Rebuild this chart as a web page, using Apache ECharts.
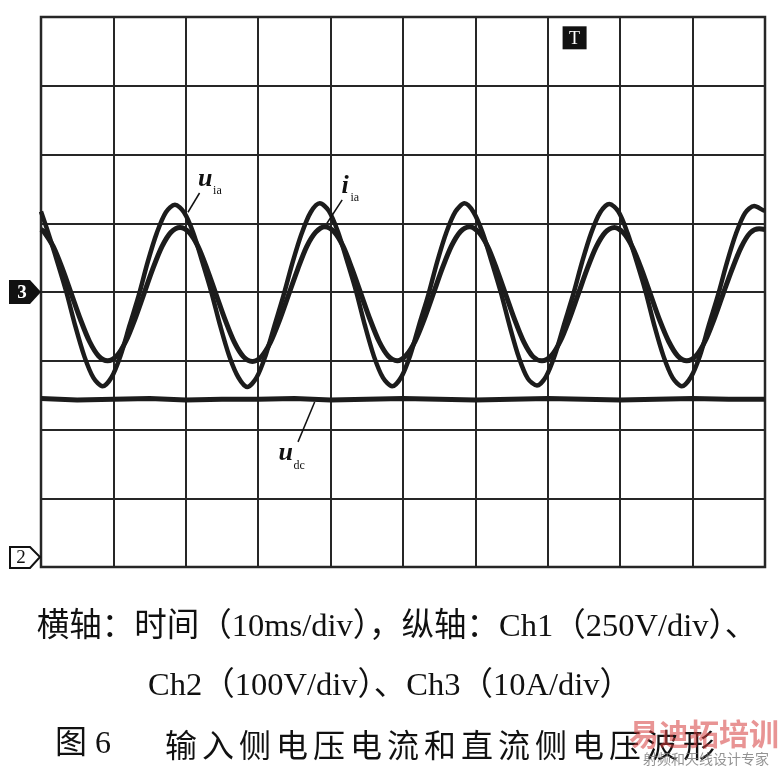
<!DOCTYPE html>
<html><head><meta charset="utf-8">
<script src="https://cdn.jsdelivr.net/npm/echarts@6/dist/echarts.min.js"></script>
<style>html,body{margin:0;padding:0;background:#fff}#c{width:783px;height:768px}</style>
</head><body><div id="c"></div>
<script>
// time axis (ms), 10 ms/div -- samples for u_ia
const uTimes = [0,
  1, 2.25, 3.5, 4.75, 6, 7.25, 8.5, 9.75, 11, 12.25, 13.5, 14.75, 16, 17.25, 18.5, 19.75,
  21, 22.25, 23.5, 24.75, 26, 27.25, 28.5, 29.75, 31, 32.25, 33.5, 34.75, 36, 37.25, 38.5, 39.75,
  41, 42.25, 43.5, 44.75, 46, 47.25, 48.5, 49.75, 51, 52.25, 53.5, 54.75, 56, 57.25, 58.5, 59.75,
  61, 62.25, 63.5, 64.75, 66, 67.25, 68.5, 69.75, 71, 72.25, 73.5, 74.75, 76, 77.25, 78.5, 79.75,
  81, 82.25, 83.5, 84.75, 86, 87.25, 88.5, 89.75, 91, 92.25, 93.5, 94.75, 96, 97.25, 98.5, 99.75,
  100];
// u_ia trace (divisions from screen centre)
const uia = [1.17,
  0.86, 0.44, 0.00, -0.50, -0.94, -1.25, -1.37, -1.24, -0.92, -0.48, -0.05, 0.44, 0.86, 1.16, 1.27, 1.16,
  0.87, 0.45, 0.01, -0.49, -0.93, -1.24, -1.38, -1.25, -0.93, -0.49, -0.05, 0.43, 0.85, 1.16, 1.29, 1.18,
  0.88, 0.46, 0.02, -0.49, -0.94, -1.25, -1.37, -1.24, -0.92, -0.47, -0.04, 0.45, 0.87, 1.17, 1.29, 1.16,
  0.86, 0.44, 0.00, -0.50, -0.95, -1.26, -1.36, -1.23, -0.91, -0.47, -0.04, 0.44, 0.86, 1.16, 1.28, 1.17,
  0.86, 0.45, 0.01, -0.50, -0.94, -1.25, -1.37, -1.24, -0.93, -0.48, -0.05, 0.43, 0.85, 1.15, 1.25, 1.19,
  1.18];
// samples for i_ia
const iTimes = [0,
  0.45, 1.7, 2.95, 4.2, 5.45, 6.7, 7.95, 9.2, 10.45, 11.7, 12.95, 14.2, 15.45, 16.7, 17.95, 19.2,
  20.45, 21.7, 22.95, 24.2, 25.45, 26.7, 27.95, 29.2, 30.45, 31.7, 32.95, 34.2, 35.45, 36.7, 37.95, 39.2,
  40.45, 41.7, 42.95, 44.2, 45.45, 46.7, 47.95, 49.2, 50.45, 51.7, 52.95, 54.2, 55.45, 56.7, 57.95, 59.2,
  60.45, 61.7, 62.95, 64.2, 65.45, 66.7, 67.95, 69.2, 70.45, 71.7, 72.95, 74.2, 75.45, 76.7, 77.95, 79.2,
  80.45, 81.7, 82.95, 84.2, 85.45, 86.7, 87.95, 89.2, 90.45, 91.7, 92.95, 94.2, 95.45, 96.7, 97.95, 99.2,
  100];
const iia = [0.91,
  0.87, 0.66, 0.34, -0.03, -0.40, -0.72, -0.93, -1.00, -0.93, -0.72, -0.40, -0.03, 0.34, 0.66, 0.87, 0.94,
  0.87, 0.66, 0.33, -0.04, -0.41, -0.73, -0.94, -1.01, -0.94, -0.73, -0.41, -0.04, 0.33, 0.66, 0.87, 0.95,
  0.88, 0.67, 0.34, -0.03, -0.40, -0.72, -0.93, -1.00, -0.92, -0.71, -0.39, -0.02, 0.35, 0.67, 0.88, 0.95,
  0.87, 0.66, 0.33, -0.04, -0.41, -0.73, -0.94, -1.00, -0.93, -0.72, -0.40, -0.03, 0.34, 0.66, 0.87, 0.94,
  0.86, 0.65, 0.33, -0.04, -0.41, -0.72, -0.93, -1.00, -0.93, -0.72, -0.40, -0.03, 0.33, 0.65, 0.86, 0.92,
  0.91];
// u_dc trace
const dcTimes = [0, 5, 10, 15, 20, 25, 30, 35, 40, 45, 50, 55, 60, 65, 70, 75, 80, 85, 90, 95, 100];
const udc = [-1.55, -1.57, -1.56, -1.55, -1.57, -1.56, -1.56, -1.55, -1.57, -1.56, -1.55, -1.56, -1.57, -1.56, -1.55, -1.56, -1.57, -1.56, -1.55, -1.56, -1.56];

const caption1 = '横轴：时间（10ms/div），纵轴：Ch1（250V/div）、';
const caption2 = 'Ch2（100V/div）、Ch3（10A/div）';
const figNo = '图 6';
const figTitle = '输入侧电压电流和直流侧电压波形';

const INK = '#1c1c1c';
const chart = echarts.init(document.getElementById('c'), null, {renderer: 'canvas'});
const axisCommon = {
  axisLine: {show: false}, axisTick: {show: false}, axisLabel: {show: false},
  splitLine: {show: true, lineStyle: {color: '#262626', width: 2}}
};
chart.setOption({
  animation: false,
  backgroundColor: '#fff',
  grid: {left: 41, top: 17, right: 18, bottom: 201, show: true, borderColor: '#262626', borderWidth: 2.5},
  xAxis: Object.assign({type: 'value', min: 0, max: 100, interval: 10}, axisCommon),
  yAxis: Object.assign({type: 'value', min: -4, max: 4, interval: 1}, axisCommon),
  series: [
    {name: 'udc', type: 'line', showSymbol: false, data: dcTimes.map((t, i) => [t, udc[i]]),
      lineStyle: {color: INK, width: 5}, z: 3},
    {name: 'iia', type: 'line', showSymbol: false, smooth: 0.3, data: iTimes.map((t, i) => [t, iia[i]]),
      lineStyle: {color: INK, width: 5}, z: 3},
    {name: 'uia', type: 'line', showSymbol: false, smooth: 0.3, data: uTimes.map((t, i) => [t, uia[i]]),
      lineStyle: {color: INK, width: 4.5}, z: 4}
  ]
});

const P = (x, y) => chart.convertToPixel({gridIndex: 0}, [x, y]);
const g = [];
const SERIF = '"Liberation Serif", "Noto Sans CJK SC", serif';
// channel 3 marker at centre
const c3 = P(0, 0);
g.push({type: 'polygon', shape: {points: [[c3[0]-32, c3[1]-12], [c3[0]-11, c3[1]-12], [c3[0], c3[1]], [c3[0]-11, c3[1]+12], [c3[0]-32, c3[1]+12]]},
  style: {fill: '#111'}, z: 10});
g.push({type: 'text', style: {text: '3', x: c3[0]-19, y: c3[1]+1, fill: '#fff', font: 'bold 19px "Liberation Serif"', align: 'center', verticalAlign: 'middle'}, z: 11});
// channel 2 marker near bottom
const c2 = P(0, -4);
const m2 = c2[1] - 10;
g.push({type: 'polygon', shape: {points: [[c2[0]-31, m2-10], [c2[0]-11, m2-10], [c2[0]-1, m2], [c2[0]-11, m2+11], [c2[0]-31, m2+11]]},
  style: {fill: '#fff', stroke: '#111', lineWidth: 2}, z: 10});
g.push({type: 'text', style: {text: '2', x: c2[0]-20, y: m2+1, fill: '#111', font: '19px "Liberation Serif"', align: 'center', verticalAlign: 'middle'}, z: 11});
// trigger marker
const tp = P(73.7, 3.69);
g.push({type: 'rect', shape: {x: tp[0]-12, y: tp[1]-12, width: 24, height: 23}, style: {fill: '#111'}, z: 10});
g.push({type: 'text', style: {text: 'T', x: tp[0], y: tp[1]+1, fill: '#fff', font: '18px "Liberation Serif"', align: 'center', verticalAlign: 'middle'}, z: 11});

// trace annotations
function label(main, sub, at, lineFrom, lineTo) {
  const a = P(at[0], at[1]);
  g.push({type: 'text', style: {text: main, x: a[0], y: a[1], fill: '#111', font: 'italic bold 26px "Liberation Serif"', align: 'left', verticalAlign: 'bottom'}, z: 11});
  g.push({type: 'text', style: {text: sub, x: a[0] + (main === 'i' ? 9 : 15), y: a[1] + 5, fill: '#111', font: '12px "Liberation Serif"', align: 'left', verticalAlign: 'bottom'}, z: 11});
  const f = P(lineFrom[0], lineFrom[1]), t = P(lineTo[0], lineTo[1]);
  g.push({type: 'line', shape: {x1: f[0], y1: f[1], x2: t[0], y2: t[1]}, style: {stroke: '#111', lineWidth: 1.5}, z: 11});
}
label('u', 'ia', [21.7, 1.45], [20.3, 1.16], [21.9, 1.44]);
label('i', 'ia', [41.5, 1.35], [39.5, 1.0], [41.6, 1.34]);
label('u', 'dc', [32.8, -2.54], [37.8, -1.6], [35.5, -2.18]);

// caption
g.push({type: 'text', style: {text: caption1, x: 397, y: 627, fill: '#111', font: '32.5px ' + SERIF, align: 'center', verticalAlign: 'middle'}});
g.push({type: 'text', style: {text: caption2, x: 390, y: 686, fill: '#111', font: '32.5px ' + SERIF, align: 'center', verticalAlign: 'middle'}});
g.push({type: 'text', style: {text: figNo, x: 55, y: 745, fill: '#111', font: '32px ' + SERIF, align: 'left', verticalAlign: 'middle'}});
for (let k = 0; k < figTitle.length; k++) {
  g.push({type: 'text', style: {text: figTitle[k], x: 165 + k * 37, y: 745, fill: '#111', font: '32px "Noto Sans CJK SC"', align: 'left', verticalAlign: 'middle'}});
}
// watermark
g.push({type: 'text', style: {text: '易迪拓培训', x: 704, y: 734, fill: 'rgba(214,60,60,0.55)', font: 'bold 30px "Noto Sans CJK SC"', align: 'center', verticalAlign: 'middle'}, z: 20});
g.push({type: 'text', style: {text: '射频和天线设计专家', x: 706, y: 759, fill: 'rgba(120,120,120,0.8)', font: '14px "Noto Sans CJK SC"', align: 'center', verticalAlign: 'middle'}, z: 20});
chart.setOption({graphic: g});
</script></body></html>
